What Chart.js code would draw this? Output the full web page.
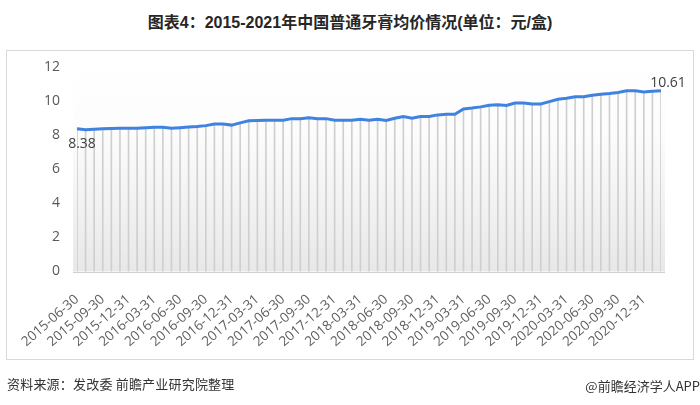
<!DOCTYPE html>
<html>
<head>
<meta charset="utf-8">
<script src="https://cdn.jsdelivr.net/npm/chart.js@4"></script>
<style>
  html, body { margin: 0; padding: 0; background: #fff; }
  #wrap { position: relative; width: 700px; height: 405px; overflow: hidden; }
  #title {
    position: absolute; left: 0; top: 9px; width: 700px; text-align: center;
    font: bold 16px "Liberation Sans", "Noto Sans CJK SC", sans-serif; color: #262626;
  }
  #frame {
    position: absolute; left: 6px; top: 50px; width: 686px; height: 308px;
    border: 1px solid #d9d9d9;
  }
  #source {
    position: absolute; left: 7px; top: 374px; letter-spacing: 0.2px;
    font: 13px "Noto Sans CJK SC", sans-serif; color: #333;
  }
  #brand {
    position: absolute; right: 0; top: 376px;
    font: 13px "Noto Sans CJK SC", sans-serif; color: #333;
  }
  canvas { position: absolute; left: 0; top: 0; }
</style>
</head>
<body>
<div id="wrap">
  <div id="title">图表4：2015-2021年中国普通牙膏均价情况(单位：元/盒)</div>
  <div id="frame"></div>
  <canvas id="chart" width="700" height="405"></canvas>
  <div id="source">资料来源：发改委 前瞻产业研究院整理</div>
  <div id="brand">@前瞻经济学人APP</div>
</div>
<script>
// Monthly categories (month end dates)
const months = [
  '2015-06-30', '2015-07-31', '2015-08-31', '2015-09-30', '2015-10-31', '2015-11-30', '2015-12-31',
  '2016-01-31', '2016-02-29', '2016-03-31', '2016-04-30', '2016-05-31', '2016-06-30',
  '2016-07-31', '2016-08-31', '2016-09-30', '2016-10-31', '2016-11-30', '2016-12-31',
  '2017-01-31', '2017-02-28', '2017-03-31', '2017-04-30', '2017-05-31', '2017-06-30',
  '2017-07-31', '2017-08-31', '2017-09-30', '2017-10-31', '2017-11-30', '2017-12-31',
  '2018-01-31', '2018-02-28', '2018-03-31', '2018-04-30', '2018-05-31', '2018-06-30',
  '2018-07-31', '2018-08-31', '2018-09-30', '2018-10-31', '2018-11-30', '2018-12-31',
  '2019-01-31', '2019-02-28', '2019-03-31', '2019-04-30', '2019-05-31', '2019-06-30',
  '2019-07-31', '2019-08-31', '2019-09-30', '2019-10-31', '2019-11-30', '2019-12-31',
  '2020-01-31', '2020-02-29', '2020-03-31', '2020-04-30', '2020-05-31', '2020-06-30',
  '2020-07-31', '2020-08-31', '2020-09-30', '2020-10-31', '2020-11-30', '2020-12-31',
  '2021-01-31', '2021-02-28'
];

// Tick labels shown on the x axis (quarter ends)
const quarterLabels = [
  '2015-06-30', '2015-09-30', '2015-12-31',
  '2016-03-31', '2016-06-30', '2016-09-30', '2016-12-31',
  '2017-03-31', '2017-06-30', '2017-09-30', '2017-12-31',
  '2018-03-31', '2018-06-30', '2018-09-30', '2018-12-31',
  '2019-03-31', '2019-06-30', '2019-09-30', '2019-12-31',
  '2020-03-31', '2020-06-30', '2020-09-30', '2020-12-31'
];

// Average price of ordinary toothpaste (yuan / box)
const avgPrice = [
  8.38, 8.32, 8.35, 8.37, 8.39, 8.41, 8.41,
  8.41, 8.44, 8.47, 8.47, 8.40, 8.44, 8.48, 8.51, 8.56, 8.65, 8.65, 8.59,
  8.72, 8.85, 8.86, 8.88, 8.88, 8.88, 8.97, 8.97, 9.02, 8.97, 8.97, 8.88,
  8.88, 8.88, 8.93, 8.88, 8.93, 8.86, 8.99, 9.10, 8.99, 9.10, 9.10, 9.19,
  9.23, 9.23, 9.54, 9.59, 9.66, 9.75, 9.79, 9.74, 9.89, 9.89, 9.83, 9.83,
  9.97, 10.11, 10.17, 10.25, 10.25, 10.34, 10.40, 10.44, 10.50, 10.60, 10.60, 10.54,
  10.58, 10.61
];

const yTicks = [0, 2, 4, 6, 8, 10, 12];

// Plot area gradient + bottom axis line
const plotBackground = {
  id: 'plotBackground',
  beforeDatasetsDraw(chart) {
    const { ctx, chartArea: a } = chart;
    const left = a.left - 4, right = a.right + 4, top = a.top - 7;
    const grad = ctx.createLinearGradient(0, top, 0, a.bottom);
    grad.addColorStop(0, '#ffffff');
    grad.addColorStop(0.35, '#fcfcfc');
    grad.addColorStop(1, '#e8e8e8');
    ctx.save();
    ctx.fillStyle = grad;
    ctx.fillRect(left, top, right - left, a.bottom - top);
    ctx.strokeStyle = '#d0d0d0';
    ctx.lineWidth = 1;
    ctx.beginPath();
    ctx.moveTo(left, Math.round(a.bottom) + 0.5);
    ctx.lineTo(right, Math.round(a.bottom) + 0.5);
    ctx.stroke();
    ctx.restore();
  }
};

// First and last value labels
const endLabels = {
  id: 'endLabels',
  afterDatasetsDraw(chart) {
    const { ctx } = chart;
    const pts = chart.getDatasetMeta(0).data;
    const first = pts[0], last = pts[pts.length - 1];
    ctx.save();
    ctx.font = '14px "Open Sans", sans-serif';
    ctx.fillStyle = '#404040';
    ctx.textAlign = 'center';
    ctx.textBaseline = 'middle';
    ctx.fillText(avgPrice[0].toFixed(2), first.x + 5, first.y + 15);
    ctx.fillText(avgPrice[avgPrice.length - 1].toFixed(2), last.x + 7, last.y - 8);
    ctx.restore();
  }
};

new Chart(document.getElementById('chart'), {
  data: {
    labels: months,
    datasets: [
      {
        type: 'line',
        data: avgPrice,
        borderColor: '#3f82e0',
        borderWidth: 3,
        pointRadius: 0,
        tension: 0,
        order: 0
      },
      {
        // drop lines from each point down to the axis
        type: 'bar',
        data: avgPrice,
        backgroundColor: '#cfcfcf',
        barThickness: 1,
        order: 1
      }
    ]
  },
  options: {
    responsive: false,
    animation: false,
    layout: { padding: { left: 0, right: 39, top: 67, bottom: 0 } },
    plugins: {
      legend: { display: false },
      tooltip: { enabled: false }
    },
    scales: {
      x: {
        offset: false,
        grid: { display: false, drawTicks: false, offset: false },
        border: { display: false },
        afterFit(scale) { scale.height = 133.5; },
        ticks: {
          autoSkip: false,
          maxRotation: 41,
          minRotation: 41,
          padding: 20,
          color: '#5f5f5f',
          font: { family: '"Open Sans", sans-serif', size: 13.5 },
          callback(value, index) {
            const lab = months[index];
            return quarterLabels.includes(lab) ? lab : '';
          }
        }
      },
      y: {
        min: yTicks[0],
        max: yTicks[yTicks.length - 1],
        grid: { display: false, drawTicks: false },
        border: { display: false },
        afterFit(scale) { scale.width = 77; },
        afterBuildTicks(scale) { scale.ticks = yTicks.map(v => ({ value: v })); },
        ticks: {
          padding: 17,
          color: '#595959',
          font: { family: '"Open Sans", sans-serif', size: 14 }
        }
      }
    }
  },
  plugins: [plotBackground, endLabels]
});
</script>
</body>
</html>
